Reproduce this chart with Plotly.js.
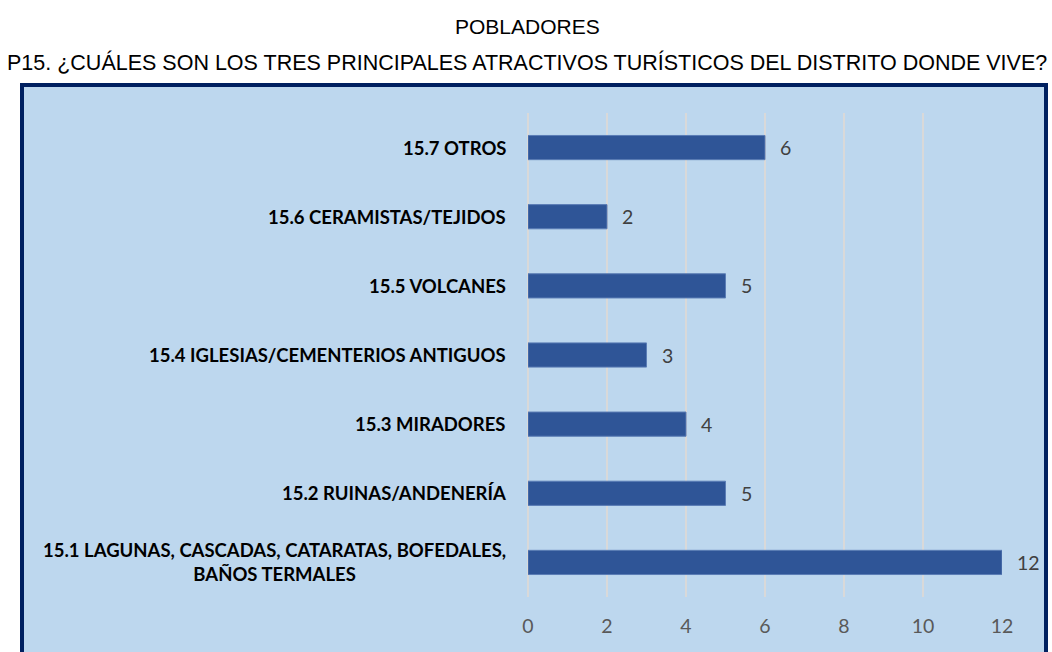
<!DOCTYPE html>
<html>
<head>
<meta charset="utf-8">
<script src="https://cdn.plot.ly/plotly-3.0.1.min.js"></script>
<style>html,body{margin:0;padding:0;background:#fff;}#chart{width:1052px;height:652px;}</style>
</head>
<body>
<div id="chart"></div>
<script>
const categories = ["15.1", "15.2", "15.3", "15.4", "15.5", "15.6", "15.7"];
const categoryLabels = [
  "15.1 LAGUNAS, CASCADAS, CATARATAS, BOFEDALES,<br>BAÑOS TERMALES",
  "15.2 RUINAS/ANDENERÍA",
  "15.3 MIRADORES",
  "15.4 IGLESIAS/CEMENTERIOS ANTIGUOS",
  "15.5 VOLCANES",
  "15.6 CERAMISTAS/TEJIDOS",
  "15.7 OTROS"
];
const values = [12, 5, 4, 3, 5, 2, 6];
const tickValues = [0, 2, 4, 6, 8, 10, 12];
const titleText = "POBLADORES";
const subtitleText = "P15. ¿CUÁLES SON LOS TRES PRINCIPALES ATRACTIVOS TURÍSTICOS DEL DISTRITO DONDE VIVE?";

const W = 1052, H = 652;
const m = {l: 528, r: 50, t: 113, b: 55};
const pw = W - m.l - m.r, ph = H - m.t - m.b;
const px2x = p => (p - m.l) / pw;
const py2y = p => (H - m.b - p) / ph;

const labelFont = {family: "Lato, 'Open Sans', sans-serif", size: 18.5, color: "#000000", weight: 700};
const annotations = [];
categories.forEach((c, i) => {
  annotations.push({
    xref: "paper", yref: "y", x: 0, y: i, xanchor: "right", yanchor: "middle",
    xshift: -20, align: "center", showarrow: false,
    text: "<b>" + categoryLabels[i] + "</b>", font: labelFont
  });
  annotations.push({
    xref: "x", yref: "y", x: values[i], y: i, xanchor: "left", yanchor: "middle",
    xshift: 13, showarrow: false, text: String(values[i]),
    font: {family: "Lato, 'Open Sans', sans-serif", size: 19.5, color: "#404040"}
  });
});
annotations.push({
  xref: "paper", yref: "paper", x: px2x(527), y: py2y(26), xanchor: "center", yanchor: "middle",
  showarrow: false, text: titleText,
  font: {family: "'Liberation Sans', Arial, sans-serif", size: 21, color: "#000000"}
});
annotations.push({
  xref: "paper", yref: "paper", x: px2x(527), y: py2y(62), xanchor: "center", yanchor: "middle",
  showarrow: false, text: subtitleText,
  font: {family: "'Liberation Sans', Arial, sans-serif", size: 21.5, color: "#000000"}
});

const trace = {
  type: "bar", orientation: "h",
  x: values, y: categories,
  width: 0.35,
  marker: {color: "#2F5597", line: {color: "#5B7DB5", width: 1}},
  hoverinfo: "skip"
};

const layout = {
  width: W, height: H,
  margin: m,
  paper_bgcolor: "#ffffff",
  plot_bgcolor: "rgba(0,0,0,0)",
  showlegend: false,
  xaxis: {
    range: [0, 12], tickvals: tickValues, ticktext: tickValues.map(String),
    showgrid: true, gridcolor: "#D9D9D9", gridwidth: 2,
    zeroline: true, zerolinecolor: "#D9D9D9", zerolinewidth: 2,
    showline: false, ticks: "outside", ticklen: 12, tickcolor: "rgba(0,0,0,0)",
    tickfont: {family: "Lato, 'Open Sans', sans-serif", size: 19.5, color: "#595959"},
    fixedrange: true
  },
  yaxis: {
    type: "category", categoryorder: "array", categoryarray: categories,
    range: [-0.5, 6.5], showticklabels: false, showgrid: false, zeroline: false,
    showline: false, ticks: "", fixedrange: true
  },
  shapes: [{
    type: "rect", xref: "paper", yref: "paper", layer: "below",
    x0: px2x(22), x1: px2x(1046), y0: py2y(700), y1: py2y(85),
    fillcolor: "#BDD7EE", line: {color: "#002060", width: 4}
  }],
  annotations: annotations
};

Plotly.newPlot("chart", [trace], layout, {staticPlot: true, displayModeBar: false});
</script>
</body>
</html>
